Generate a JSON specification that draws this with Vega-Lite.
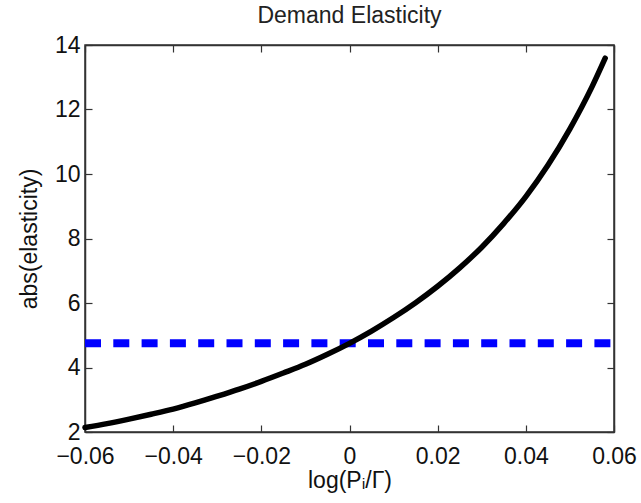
{
  "$schema": "https://vega.github.io/schema/vega-lite/v6.json",
  "width": 529,
  "height": 387,
  "autosize": "none",
  "padding": {"left": 85, "top": 45, "right": 27, "bottom": 71},
  "background": "white",
  "title": {"text": "Demand Elasticity", "fontSize": 23, "fontWeight": "normal", "font": "Liberation Sans", "color": "#222", "offset": 6},
  "config": {
    "view": {"stroke": "#333", "strokeWidth": 1.5},
    "axis": {"labelFont": "Liberation Sans", "titleFont": "Liberation Sans", "labelFontSize": 23, "titleFontSize": 23, "titleFontWeight": "normal", "labelColor": "#111", "titleColor": "#111", "domainColor": "#333", "domainWidth": 1.5, "tickColor": "#333", "tickWidth": 1.2, "grid": false}
  },
  "datasets": {
    "curve": [
      {"x": -0.060, "y": 2.14}, {"x": -0.055, "y": 2.26}, {"x": -0.050, "y": 2.40},
      {"x": -0.045, "y": 2.55}, {"x": -0.040, "y": 2.71}, {"x": -0.035, "y": 2.90},
      {"x": -0.030, "y": 3.11}, {"x": -0.025, "y": 3.33}, {"x": -0.020, "y": 3.57},
      {"x": -0.015, "y": 3.83}, {"x": -0.010, "y": 4.10}, {"x": -0.005, "y": 4.41},
      {"x": 0.000, "y": 4.75}, {"x": 0.005, "y": 5.13}, {"x": 0.010, "y": 5.55},
      {"x": 0.015, "y": 6.01}, {"x": 0.020, "y": 6.52}, {"x": 0.025, "y": 7.09},
      {"x": 0.030, "y": 7.73}, {"x": 0.035, "y": 8.47}, {"x": 0.040, "y": 9.30},
      {"x": 0.045, "y": 10.27}, {"x": 0.050, "y": 11.40}, {"x": 0.055, "y": 12.70},
      {"x": 0.058, "y": 13.59}
    ],
    "level": [
      {"x": -0.06, "y": 4.75}, {"x": 0.06, "y": 4.75}
    ]
  },
  "layer": [
    {
      "data": {"name": "level"},
      "mark": {"type": "line", "color": "#0000ff", "strokeWidth": 8, "strokeDash": [16, 12.3]},
      "encoding": {
        "x": {"field": "x", "type": "quantitative", "scale": {"domain": [-0.06, 0.06], "nice": false, "zero": false},
              "axis": {"orient": "top", "values": [-0.06, -0.04, -0.02, 0, 0.02, 0.04, 0.06], "labels": false, "title": null, "tickSize": -7}},
        "y": {"field": "y", "type": "quantitative", "scale": {"domain": [2, 14], "nice": false, "zero": false},
              "axis": {"orient": "right", "values": [2, 4, 6, 8, 10, 12, 14], "labels": false, "title": null, "tickSize": -7}}
      }
    },
    {
      "data": {"name": "curve"},
      "mark": {"type": "line", "color": "black", "strokeWidth": 5.5, "strokeCap": "round", "interpolate": "monotone"},
      "encoding": {
        "x": {"field": "x", "type": "quantitative", "scale": {"domain": [-0.06, 0.06], "nice": false, "zero": false},
              "axis": {"orient": "bottom", "values": [-0.06, -0.04, -0.02, 0, 0.02, 0.04, 0.06], "format": "~g", "title": "log(Pᵢ/Γ)", "tickSize": -7, "labelPadding": 20, "titlePadding": 1, "labelFlush": false, "labelOverlap": false}},
        "y": {"field": "y", "type": "quantitative", "scale": {"domain": [2, 14], "nice": false, "zero": false},
              "axis": {"orient": "left", "values": [2, 4, 6, 8, 10, 12, 14], "title": "abs(elasticity)", "tickSize": -7, "labelPadding": 12, "titlePadding": 13, "labelOverlap": false}}
      }
    }
  ],
  "resolve": {"scale": {"x": "independent", "y": "independent"}, "axis": {"x": "independent", "y": "independent"}}
}
